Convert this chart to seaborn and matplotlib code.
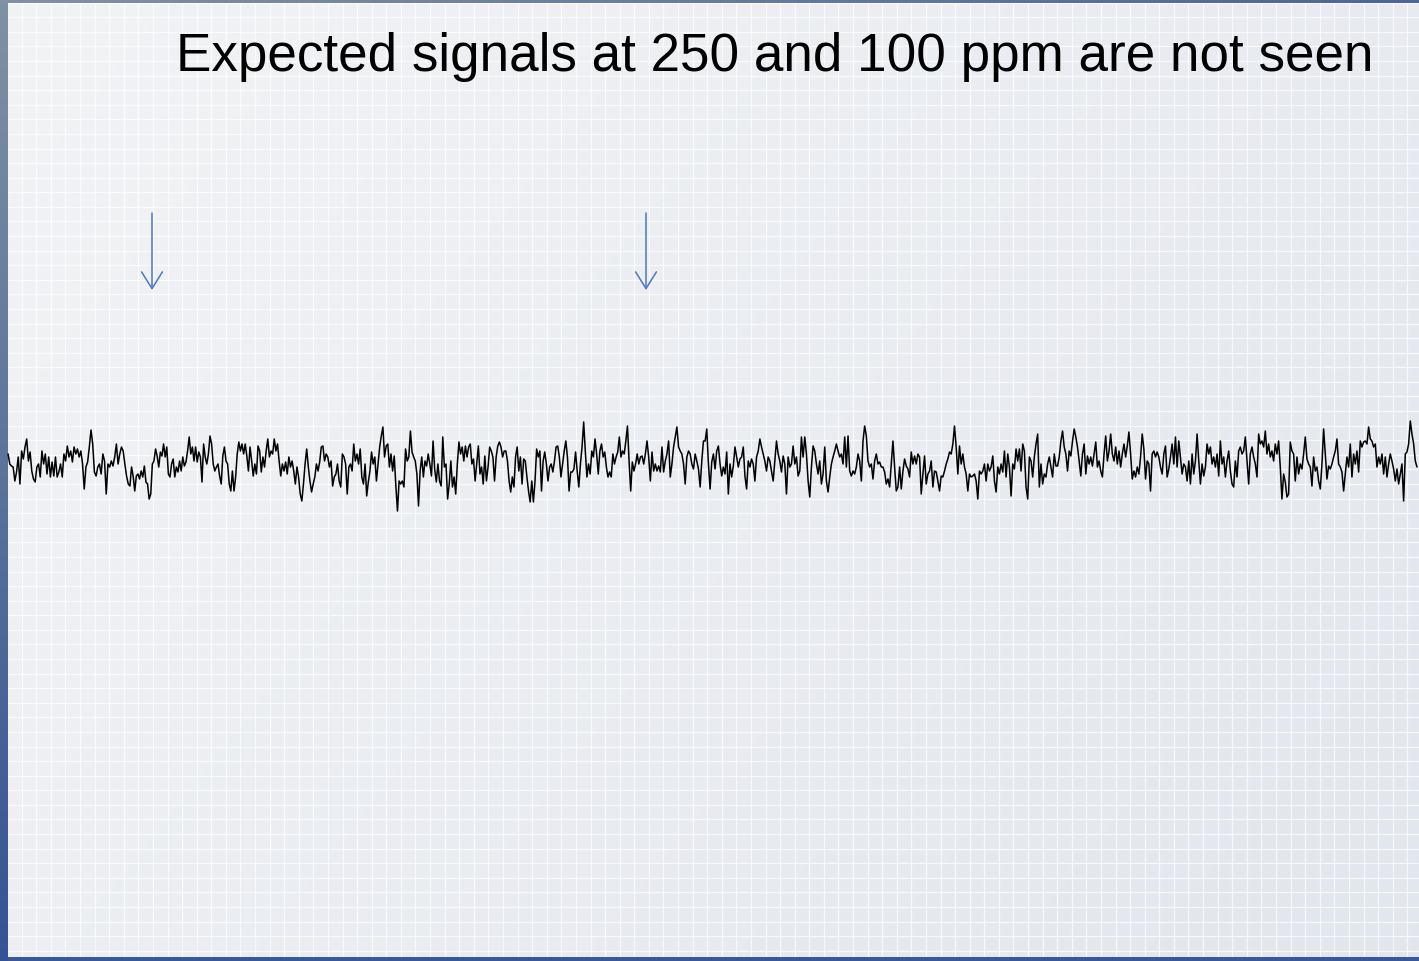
import numpy as np
import pandas as pd
import matplotlib
matplotlib.use("Agg")
import matplotlib.pyplot as plt
import seaborn as sns

# ---- spectrum data: intensity (arbitrary units) in 11 consecutive chemical-shift windows ----
segment_edges_ppm = [293.7, 256.7, 217.8, 178.9, 140.1, 101.2, 62.4, 23.5, -15.4, -54.2, -93.1, -134.1]

seg1 = [7, -3, -5, -6, -20, -11, 4, -23, 10, 2, 14, 22, 0, 9, -10, -18, -21, -6, -3, -16, 10, -3, 7, -13, 4,
        -16, -1, -15, 4, -16, -11, -3, -16, 7, 0, 15, 4, 10, -1, 14, 7, 12, 4, 10, -3, -28, -6, -1, 14, 31, 17,
        -11, -15, -6, -3, -13, 7, 0, -33, -3, -6, 0, -5, 4, 17, -3, 7, 14, 10, -3, -15, -23]
seg2 = [-25, -6, -15, -30, -15, -13, -18, -10, -16, -5, -21, -23, -38, -33, -3, 0, 12, 5, -6, 9, 5, 17, 4, 14,
        -13, -16, -3, 2, -16, -6, -11, 0, -10, 4, -5, -1, 10, 24, 7, 14, 0, 14, -1, 9, 4, -21, 17, 4, -3, 7, 25,
        17, -3, -10, -6, -3, -15, -23, 5, 14, 0, -3, -23, -30, -10, -30, -16, 7, 19, 10, 17, 7, 17, 5, -10, 14,
        0, -15, -3, -13]
seg3 = [15, 10, -11, 4, -6, 10, 22, 4, 10, 7, 22, 10, 17, 0, -15, -3, -10, -1, -13, 4, -6, 0, -10, -23, -6, -16,
        -33, -40, -23, -3, 12, -6, -20, -31, -23, -16, -3, -10, -1, 14, 15, 0, 7, 4, -6, 0, -25, -16, -13, -3,
        -20, -26, 7, 4, -3, -33, -6, -3, -10, 17, 0, 7, -3, 12, -16, -23, -3, -35, -21, -10, 9, -3, 4, -20, -3,
        14, 25, 34, 4]
seg4 = [15, 17, -6, 7, -10, 5, -25, -50, -20, -23, -20, -26, 12, 0, 4, 30, 9, 4, 0, -13, -45, -10, 4, -16, 0,
        -5, 7, -3, -15, 20, -8, -21, -3, -20, -25, 24, -6, -3, -38, -23, 0, -26, -16, -33, -3, 19, 7, 14, 0, 15,
        4, 14, 17, -3, 2, -20, -3, 15, -13, -6, -23, 5, -20, -6, 14, 10, 4, -20, 4, 15, 19, 14, 4, 10, 10, 0,
        -20, -31, -16]
seg5 = [-26, 4, 14, -10, 4, -23, 2, 0, -16, -30, -41, -20, -41, -20, 12, 4, 10, -30, 0, 9, -3, -20, -6, -3, -11,
        0, 14, 15, 4, -16, -3, 10, 20, 4, -30, -11, -11, -8, 9, -10, -26, -3, 14, 39, 10, -16, -3, -13, 10, 4,
        22, 7, -13, 10, 17, 4, 9, -6, -16, -11, -16, 7, -3, 4, 9, 24, 4, 10, 7, 20, 35, 0, -30, -1, -10, -3, 7,
        -3, 4]
seg6 = [5, -3, 7, 20, 4, -20, 9, -10, -3, -10, -5, -11, 14, -11, 0, 7, 20, -16, -3, 14, 24, 34, 14, 10, 7, -3,
        -23, 4, 10, 7, -3, -8, 7, 0, -8, -26, 0, 20, 20, 32, -3, -28, -1, 7, -8, 10, 15, -3, -15, -6, -13, 9,
        -33, -3, -16, -5, 14, 4, -6, 2, 4, 14, -15, -28, 0, -6, 2, -3, -20, 4, 10, 22, 14, 7, 0, -10, 4]
seg7 = [0, -10, -20, 0, 20, 7, 0, -11, 5, -3, -33, 4, -6, -3, 15, -3, 4, -15, -10, 24, 4, 24, 7, -20, -36, -6,
        15, 10, -3, -13, 0, -23, -13, 14, -20, -31, -16, -3, 4, 10, 17, 10, 4, 7, -3, 24, -6, 25, -10, -15, -10,
        -13, -6, 7, 0, -20, 20, 35, 25, 0, -6, -3, -18, 0, 7, -3, -1, -6, -6, -11, -23, -18, -26, -3, 20, -6, -30]
seg8 = [-26, -6, -28, -10, 2, -5, -8, -16, 9, -3, 5, -3, 7, 4, -33, -13, 5, -23, -13, -10, 0, -26, -10, -11,
        -20, -30, -15, -16, -10, -3, 2, 9, 7, 17, 35, 14, -13, 15, -3, 7, -6, -13, -30, -13, -16, -15, -13, -20,
        -38, -10, -13, -10, -3, -20, -3, -10, -6, 5, -20, -31, -6, -13, -3, -11, 10, -16, 7, -6, -35, -3, -8,
        12, 0, 12, -10, 17, 10]
seg9 = [-26, -38, 4, 0, -16, 4, 17, 27, -26, -3, -23, -13, -16, -3, 4, -6, -16, 7, -5, -5, 4, 20, 30, 14, 7,
        -10, 10, 5, 20, 32, 24, 14, 0, -15, 7, 17, -13, 5, -3, 4, -5, 7, 19, -6, 0, -10, -16, 7, 25, 0, 10, 27,
        7, 0, 14, -3, 10, -6, 7, 17, 4, 15, 29, 7, -18, -10, -16, -6, -13, 4, 27, 12, -18, 0, -3, -30, 7]
seg10 = [10, 4, 9, 4, -6, -13, 7, 15, -16, -8, 4, 17, -3, 24, -6, 20, 4, -13, -3, -6, -20, 0, -23, 7, -13, 0,
         27, 0, -23, -3, -15, -6, 17, 7, 14, -3, 4, -6, 7, -15, 20, -3, 4, -16, 0, 10, -10, -23, -26, 0, -16, 10,
         14, 7, 10, 24, 0, -23, 7, 14, 4, -3, -16, 27, 17, 20, 14, 30, 7, 17, 4, 10, 0, 17, 7, 20, -6]
seg11 = [-38, -13, -21, -36, -33, 19, 10, 7, -20, 4, -13, -3, -8, 7, 24, 2, -3, -6, -25, 4, -10, -6, -20, -28,
         -3, 32, 7, -18, -5, -8, -3, 4, 10, 22, -3, -6, -11, -30, -13, 4, -6, 17, -16, 7, -3, 10, -11, 20, 14,
         19, 20, 17, 34, 22, 20, 14, 17, -6, 4, -3, 7, -13, 4, -16, -3, 7, 0, -8, -20, -8, -23, -13, -3, -40, 7,
         9, 17, 40, 27, 17, 0, -6]

segments = [seg1, seg2, seg3, seg4, seg5, seg6, seg7, seg8, seg9, seg10, seg11]

expected_ppm = [250, 100]
title_text = "Expected signals at 250 and 100 ppm are not seen"

# ---- assemble the spectrum ----
shift_parts, inten_parts = [], []
for k, seg in enumerate(segments):
    last = k == len(segments) - 1
    shift_parts.append(np.linspace(segment_edges_ppm[k], segment_edges_ppm[k + 1], len(seg), endpoint=last))
    inten_parts.append(np.asarray(seg, dtype=float))
spectrum = pd.DataFrame({"ppm": np.concatenate(shift_parts), "intensity": np.concatenate(inten_parts)})

# ---- figure geometry (pixel based) ----
W, H = 1419, 962
baseline_px = 462
px_per_ppm = 494 / 150.0


def px_to_ppm(px):
    return 250 - (px - 152) / px_per_ppm


sns.set_style("white")
plt.rcParams["font.family"] = ["Liberation Sans", "DejaVu Sans"]

fig = plt.figure(figsize=(W / 100, H / 100), dpi=100)

# slide background: soft diagonal gradient with a fine white grid
bg = fig.add_axes([0, 0, 1, 1])
bg.set_xlim(0, W)
bg.set_ylim(H, 0)
bg.axis("off")
yy, xx = np.mgrid[0:H, 0:W]
t = np.clip(xx / W * 0.65 + yy / H * 0.35, 0, 1)
c0 = np.array([0.949, 0.953, 0.961])
c1 = np.array([0.886, 0.902, 0.929])
bg.imshow(c0 + (c1 - c0) * t[..., None], extent=(0, W, H, 0), aspect="auto", interpolation="bilinear", zorder=0)

step = 14.585
for gx in np.arange(7.1, W, step):
    bg.axvline(gx, color="white", lw=0.9, alpha=0.75, zorder=1)
for gy in np.arange(3.7, H, step):
    bg.axhline(gy, color="white", lw=0.9, alpha=0.75, zorder=1)

# slide frame: blue-grey strip on the left, thin strips top and bottom
frame = np.zeros((H, W, 4))
v = (np.arange(H) / H)[:, None]
left_top = np.array([0.50, 0.57, 0.64])
left_bot = np.array([0.20, 0.33, 0.58])
frame[:, :8, :3] = left_top + (left_bot - left_top) * v[..., None]
frame[:, :8, 3] = 1
h = (np.arange(W) / W)[None, :]
top_l = np.array([0.50, 0.57, 0.64])
top_r = np.array([0.30, 0.40, 0.60])
frame[:4, 8:, :3] = (top_l + (top_r - top_l) * h[..., None])[:, 8:]
frame[:4, 8:, 3] = 1
frame[H - 4:, 8:, :3] = np.array([0.22, 0.35, 0.60])
frame[H - 4:, 8:, 3] = 1
bg.imshow(frame, extent=(0, W, H, 0), aspect="auto", interpolation="nearest", zorder=3)

# spectrum axes, scaled so one intensity unit equals one pixel
ax = fig.add_axes([0, 0, 1, 1])
ax.patch.set_alpha(0)
ax.set_xlim(px_to_ppm(0), px_to_ppm(W))
ax.set_ylim(-(H - baseline_px), baseline_px)
ax.axis("off")

sns.lineplot(data=spectrum, x="ppm", y="intensity", ax=ax, color="black", linewidth=1.1,
             estimator=None, sort=False, zorder=4)

# arrows at the expected shifts
for shift in expected_ppm:
    ax.annotate("", xy=(shift, baseline_px - 291), xytext=(shift, baseline_px - 214),
                arrowprops=dict(arrowstyle="->,head_length=1.2,head_width=0.75", color="#4a78c4",
                                lw=1.1, shrinkA=0, shrinkB=0))

fig.text(775 / W, 1 - 71 / H, title_text, fontsize=38.2, ha="center", va="baseline", color="black")

fig.savefig("out.png", dpi=100)
